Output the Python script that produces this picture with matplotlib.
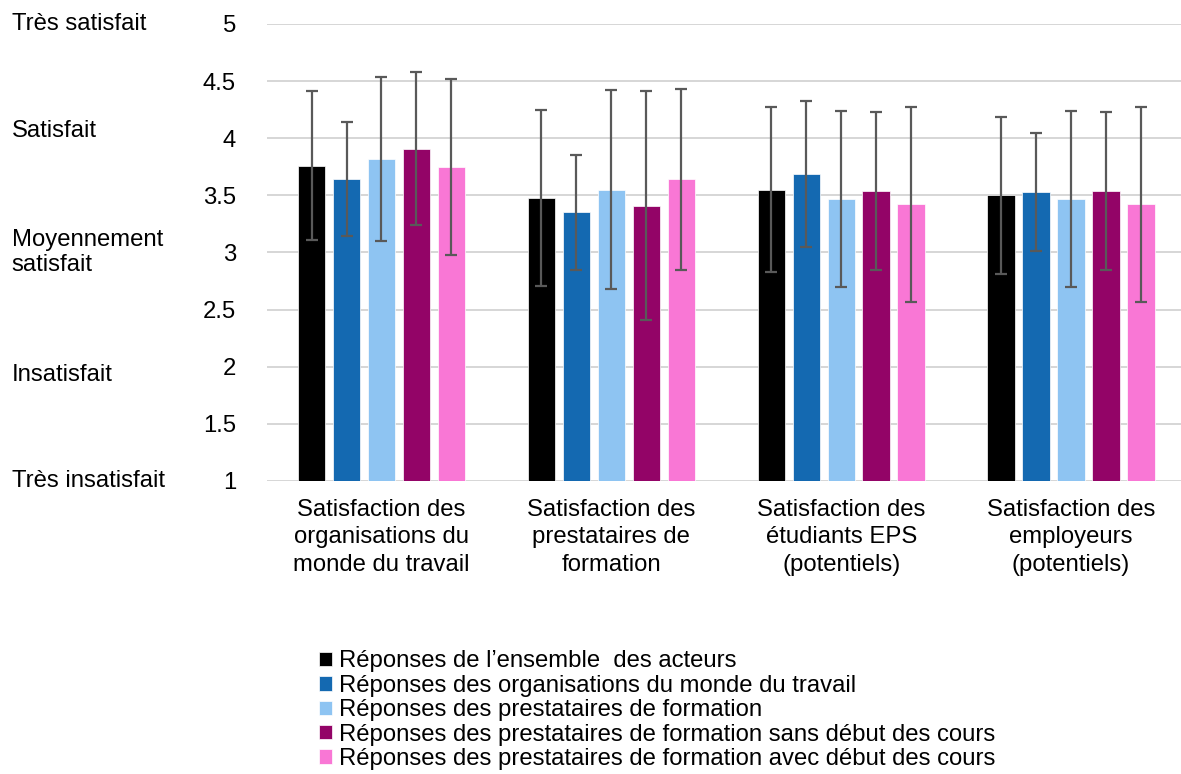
import numpy as np
import matplotlib.pyplot as plt

plt.rcParams['font.family'] = ['Liberation Sans', 'DejaVu Sans']

# categories and series
categories = ["Satisfaction des\norganisations du\nmonde du travail",
              "Satisfaction des\nprestataires de\nformation",
              "Satisfaction des\nétudiants EPS\n(potentiels)",
              "Satisfaction des\nemployeurs\n(potentiels)"]
series = ["Réponses de l\u2019ensemble  des acteurs",
          "Réponses des organisations du monde du travail",
          "Réponses des prestataires de formation",
          "Réponses des prestataires de formation sans début des cours",
          "Réponses des prestataires de formation avec début des cours"]
colors = ["#000000", "#1469B1", "#8EC4F2", "#930467", "#F977D5"]

# moyennes (une liste par série, une valeur par catégorie)
ensemble = [3.76, 3.48, 3.55, 3.50]
organisations = [3.64, 3.35, 3.69, 3.53]
prestataires = [3.82, 3.55, 3.47, 3.47]
sans_debut = [3.91, 3.41, 3.54, 3.54]
avec_debut = [3.75, 3.64, 3.42, 3.42]

# écarts-types
ensemble_err = [0.65, 0.77, 0.72, 0.69]
organisations_err = [0.50, 0.50, 0.64, 0.52]
prestataires_err = [0.72, 0.87, 0.77, 0.77]
sans_debut_err = [0.67, 1.00, 0.69, 0.69]
avec_debut_err = [0.77, 0.79, 0.85, 0.85]

means = [ensemble, organisations, prestataires, sans_debut, avec_debut]
errs = [ensemble_err, organisations_err, prestataires_err, sans_debut_err, avec_debut_err]

yticks = [1, 1.5, 2, 2.5, 3, 3.5, 4, 4.5, 5]
scale_labels = ["Très satisfait", "Satisfait", "Moyennement\nsatisfait", "Insatisfait", "Très insatisfait"]
scale_pos = [5, 4.06, 3.0, 1.93, 1]

fs = 17.2
fig = plt.figure(figsize=(11.81, 7.74), dpi=100)
ax = fig.add_axes([0.2257, 0.3786, 0.7785, 0.5904])

x = np.arange(len(categories))
step = 0.152
width = 0.119
for i in range(len(series)):
    off = (i - 2) * step
    ax.bar(x + off, means[i], width, bottom=0, color=colors[i], label=series[i],
           edgecolor="white", linewidth=0.5, zorder=2)
    ax.errorbar(x + off, means[i], yerr=errs[i], fmt="none", ecolor="#595959",
                elinewidth=1.6, capsize=4, capthick=1.6, zorder=3)

ax.set_ylim(1, 5)
ax.set_xlim(-0.5, 3.5)
ax.set_yticks(yticks)
ax.set_yticklabels(["1", "1.5", "2", "2.5", "3", "3.5", "4", "4.5", "5"], fontsize=fs)
ax.set_xticks(x)
ax.set_xticklabels(categories, fontsize=fs, linespacing=1.32)
ax.tick_params(axis="both", length=0, pad=22)
ax.tick_params(axis="x", pad=13)
ax.yaxis.grid(True, color="#D0D0D0", linewidth=1.2, zorder=0)
ax.set_axisbelow(True)
for s in ax.spines.values():
    s.set_visible(False)

for lab, pos in zip(scale_labels, scale_pos):
    ax.text(0.010, ax.transData.transform((0, pos))[1] / fig.dpi / 7.74, lab,
            transform=fig.transFigure, fontsize=fs, va="center", ha="left",
            linespacing=1.15)

fig.legend(loc="upper left", bbox_to_anchor=(0.262, 0.172), fontsize=fs,
           frameon=False, handlelength=0.55, handleheight=0.55, handletextpad=0.3,
           labelspacing=0.1, borderaxespad=0)

fig.savefig("out.png", dpi=100)
